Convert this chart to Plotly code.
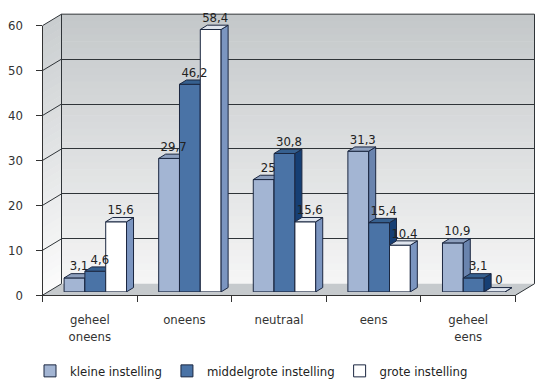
import plotly.graph_objects as go
import numpy as np

# ---------------- data ----------------
categories = ["geheel oneens", "oneens", "neutraal", "eens", "geheel eens"]
series_names = ["kleine instelling", "middelgrote instelling", "grote instelling"]
kleine = [3.1, 29.7, 25, 31.3, 10.9]
middelgrote = [4.6, 46.2, 30.8, 15.4, 3.1]
grote = [15.6, 58.4, 15.6, 10.4, 0]
y_ticks = [0, 10, 20, 30, 40, 50, 60]

# ---------------- styling ----------------
W, H = 536, 386
FONT = "Liberation Sans Narrow, DejaVu Sans Condensed, Arial Narrow, sans-serif"
EDGE = "#1b2740"
front_cols = ["#a3b5d3", "#4a73a6", "#ffffff"]
side_cols = ["#6a84ae", "#163f74", "#7b95c0"]
top_cols = ["#8d9fbd", "#36608f", "#dfe5ee"]
BAR_W = 0.22
OFFSETS = [-0.33, -0.11, 0.11]

def px(x):
    return x / W

def py(y):
    return 1 - y / H

# plane geometry in pixels
FX0, FX1 = 42.5, 515.5
FY0, FY60 = 301.5, 19.5
BDX, BDY = 19, -12          # back wall offset
RDX, RDY = 5.5, -3.5        # bar plane offset
UX = (FX1 - FX0) / 5        # pixels per category
DEP_X = 7 / UX
DEP_Y = 4.5 / ((FY0 - FY60) / 60)
LABEL_SHIFT = 4.5 / UX

fig = go.Figure()
series = [kleine, middelgrote, grote]
xi = np.arange(len(categories))

# back wall axes (x, y) need a trace to exist
fig.add_trace(go.Scatter(x=[None], y=[None], xaxis="x", yaxis="y", showlegend=False, hoverinfo="skip"))

axes_ids = [("x2", "y2"), ("x3", "y3"), ("x4", "y4")]
for s, vals in enumerate(series):
    xa, ya = axes_ids[s]
    fig.add_trace(go.Bar(
        x=xi, y=vals, width=BAR_W, offset=OFFSETS[s], name=series_names[s],
        marker=dict(color=front_cols[s], line=dict(color=EDGE, width=1)),
        xaxis=xa, yaxis=ya, hoverinfo="skip", showlegend=True,
    ))
    sx, sy, tx, ty = [], [], [], []
    for i, v in zip(xi, vals):
        x0 = i + OFFSETS[s]
        x1 = x0 + BAR_W
        sx += [x1, x1 + DEP_X, x1 + DEP_X, x1, x1, None]
        sy += [0, DEP_Y, v + DEP_Y, v, 0, None]
        tx += [x0, x0 + DEP_X, x1 + DEP_X, x1, x0, None]
        ty += [v, v + DEP_Y, v + DEP_Y, v, v, None]
    fig.add_trace(go.Scatter(x=sx, y=sy, mode="lines", fill="toself", fillcolor=side_cols[s],
                             line=dict(color=EDGE, width=1), xaxis=xa, yaxis=ya,
                             showlegend=False, hoverinfo="skip"))
    fig.add_trace(go.Scatter(x=tx, y=ty, mode="lines", fill="toself", fillcolor=top_cols[s],
                             line=dict(color=EDGE, width=1), xaxis=xa, yaxis=ya,
                             showlegend=False, hoverinfo="skip"))

# value labels on the front-most bar axes
for s, vals in enumerate(series):
    fig.add_trace(go.Scatter(
        x=xi + OFFSETS[s] + BAR_W / 2 + LABEL_SHIFT, y=np.array(vals) + DEP_Y,
        mode="text", text=[f"{v:g}".replace(".", ",") for v in vals],
        textposition="top center", textfont=dict(family=FONT, size=13, color="#222"),
        cliponaxis=False,
        xaxis="x4", yaxis="y4", showlegend=False, hoverinfo="skip"))

# front axes with categories
cat_labels = [c.replace(" ", "<br>") if c.startswith("geheel") else c for c in categories]
fig.add_trace(go.Scatter(x=cat_labels, y=[0] * len(cat_labels), mode="markers",
                         marker=dict(opacity=0), xaxis="x5", yaxis="y5",
                         showlegend=False, hoverinfo="skip"))

hidden = dict(visible=False, showgrid=False, zeroline=False)
bar_xdom = [px(FX0 + RDX), px(FX1 + RDX)]
bar_ydom = [py(FY0 + RDY), py(FY60 + RDY)]

fig.update_layout(
    width=W, height=H, autosize=False,
    margin=dict(l=0, r=0, t=0, b=0),
    paper_bgcolor="white", plot_bgcolor="rgba(0,0,0,0)",
    showlegend=True,
    legend=dict(orientation="h", x=px(30), y=py(365), xanchor="left", yanchor="top",
                font=dict(family=FONT, size=13, color="#222"), bgcolor="rgba(0,0,0,0)",
                traceorder="normal"),
    xaxis=dict(domain=[px(FX0 + BDX), px(FX1 + BDX)], range=[-0.5, 4.5], **hidden),
    yaxis=dict(domain=[py(FY0 + BDY), py(FY60 + BDY)], range=[0, 60], visible=True,
               showgrid=True, gridcolor="#2f3438", gridwidth=1, zeroline=False,
               showticklabels=False, ticks="", tickvals=y_ticks, showline=False),
    xaxis2=dict(domain=bar_xdom, range=[-0.5, 4.5], anchor="y2", **hidden),
    yaxis2=dict(domain=bar_ydom, range=[0, 60], anchor="x2", **hidden),
    xaxis3=dict(range=[-0.5, 4.5], overlaying="x2", anchor="y3", **hidden),
    yaxis3=dict(range=[0, 60], overlaying="y2", anchor="x3", **hidden),
    xaxis4=dict(range=[-0.5, 4.5], overlaying="x2", anchor="y4", **hidden),
    yaxis4=dict(range=[0, 60], overlaying="y2", anchor="x4", **hidden),
    xaxis5=dict(domain=[px(FX0), px(FX1)], range=[-0.5, 4.5], anchor="y5", type="category",
                tickson="boundaries", ticks="outside", ticklen=6, tickcolor="#333",
                showline=True, linecolor="#333", linewidth=1, showgrid=False, zeroline=False,
                ticklabelstandoff=12,
                tickfont=dict(family=FONT, size=13, color="#333")),
    yaxis5=dict(domain=[py(FY0), py(FY60)], range=[0, 60], anchor="x5",
                tickvals=y_ticks, ticks="outside", ticklen=6, tickcolor="#333",
                showline=True, linecolor="#333", linewidth=1, showgrid=False, zeroline=False,
                ticklabelstandoff=10,
                tickfont=dict(family=FONT, size=13, color="#333")),
)

# ---------------- decorative walls (pixel-space shapes) ----------------
shapes = []
def poly(pts, fill, line=None):
    path = "M " + " L ".join(f"{px(x):.5f},{py(y):.5f}" for x, y in pts) + " Z"
    return dict(type="path", path=path, xref="paper", yref="paper", layer="below",
                fillcolor=fill, line=dict(width=0 if line is None else 1, color=line or fill))

top_c = np.array([196, 200, 202])
bot_c = np.array([246, 246, 246])
BX0, BX1 = FX0 + BDX, FX1 + BDX
BY0, BY60 = FY0 + BDY, FY60 + BDY
N = 40
for k in range(N):
    t0, t1 = k / N, (k + 1) / N
    c = top_c + (bot_c - top_c) * (k + 0.5) / N
    col = f"rgb({int(c[0])},{int(c[1])},{int(c[2])})"
    ya, yb = BY60 + (BY0 - BY60) * t0, BY60 + (BY0 - BY60) * t1 + 0.6
    shapes.append(poly([(BX0, ya), (BX1, ya), (BX1, yb), (BX0, yb)], col))
    fa, fb = FY60 + (FY0 - FY60) * t0, FY60 + (FY0 - FY60) * t1 + 0.6
    c2 = c + 6
    col2 = f"rgb({int(min(c2[0],255))},{int(min(c2[1],255))},{int(min(c2[2],255))})"
    shapes.append(poly([(FX0, fa), (BX0, ya), (BX0, yb), (FX0, fb)], col2))

# floor
shapes.append(poly([(FX0, FY0), (FX1, FY0), (BX1, BY0), (BX0, BY0)], "#c6cacd"))

LC = "#2f3438"
def seg(x0, y0, x1, y1):
    return dict(type="line", xref="paper", yref="paper", layer="below",
                x0=px(x0), y0=py(y0), x1=px(x1), y1=py(y1), line=dict(color=LC, width=1))

shapes.append(seg(BX0, BY60, BX1, BY60))
shapes.append(seg(BX1, BY60, BX1, BY0))
shapes.append(seg(BX0, BY60, BX0, BY0))
shapes.append(seg(FX1, FY0, BX1, BY0))
for v in y_ticks:
    yf = FY0 + (FY60 - FY0) * v / 60
    yb = BY0 + (BY60 - BY0) * v / 60
    shapes.append(seg(FX0, yf, BX0, yb))

fig.update_layout(shapes=shapes)
fig.write_html("out.html")
